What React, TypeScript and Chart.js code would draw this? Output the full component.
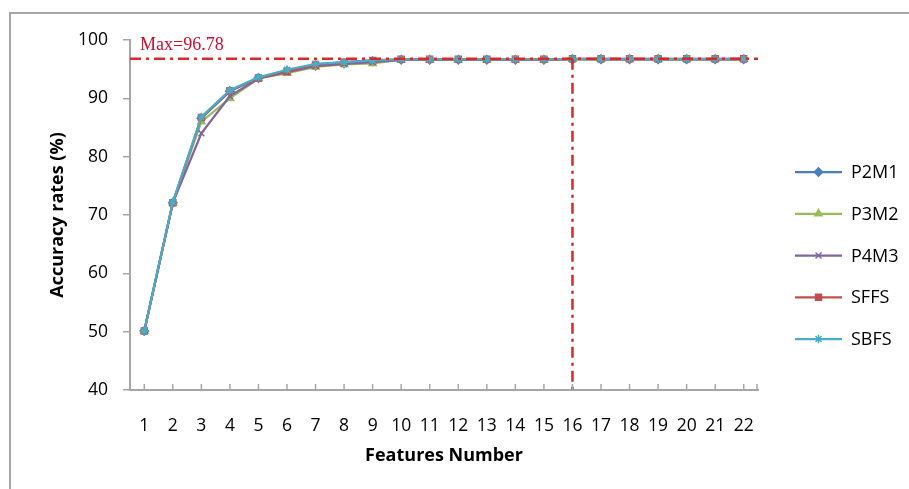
import React, { useEffect, useRef } from "react";
import { Chart, registerables } from "chart.js";
import { drawPoint } from "chart.js/helpers";

Chart.register(...registerables);

const categories = ["1","2","3","4","5","6","7","8","9","10","11","12","13","14","15","16","17","18","19","20","21","22"];
const p2m1 = [50.1, 72.1, 86.6, 91.2, 93.5, 94.7, 95.6, 96.0, 96.3, 96.6, 96.6, 96.6, 96.6, 96.6, 96.6, 96.7, 96.7, 96.7, 96.7, 96.7, 96.7, 96.7];
const p3m2 = [50.1, 72.1, 86.0, 90.0, 93.4, 94.3, 95.4, 95.8, 96.0, 96.6, 96.6, 96.6, 96.6, 96.6, 96.6, 96.7, 96.7, 96.7, 96.7, 96.7, 96.7, 96.7];
const p4m3 = [50.1, 72.1, 84.0, 90.4, 93.4, 94.5, 95.5, 95.9, 96.2, 96.6, 96.6, 96.6, 96.6, 96.6, 96.6, 96.7, 96.7, 96.7, 96.7, 96.7, 96.7, 96.7];
const sffs = [50.1, 72.1, 86.7, 91.3, 93.5, 94.6, 95.8, 96.2, 96.5, 96.7, 96.7, 96.7, 96.7, 96.7, 96.7, 96.78, 96.78, 96.78, 96.78, 96.78, 96.78, 96.78];
const sbfs = [50.1, 72.2, 86.8, 91.4, 93.6, 94.9, 95.9, 96.2, 96.5, 96.7, 96.7, 96.7, 96.7, 96.7, 96.7, 96.78, 96.78, 96.78, 96.78, 96.78, 96.78, 96.78];
const seriesNames = ["P2M1", "P3M2", "P4M3", "SFFS", "SBFS"];
const seriesColors = ["#4A7EBB", "#9BBB59", "#8064A2", "#C0504D", "#4BACC6"];
const seriesMarkers = ["rectRot", "triangle", "crossRot", "rect", "star"];
const maxValue = 96.78;
const maxFeature = "16";
const yTicks = [40, 50, 60, 70, 80, 90, 100];

const FONT = "'Open Sans', 'Liberation Sans', sans-serif";

const refLinesPlugin = {
  id: "refLines",
  afterDatasetsDraw(chart: any) {
    const { ctx, chartArea, scales } = chart;
    const x = scales.x;
    const y = scales.y;
    const yMax = y.getPixelForValue(maxValue);
    const xMax = x.getPixelForValue(categories.indexOf(maxFeature));
    ctx.save();
    ctx.strokeStyle = "#D42A2A";
    ctx.lineWidth = 2.5;
    ctx.setLineDash([11, 5, 3, 5]);
    ctx.beginPath();
    ctx.moveTo(chartArea.left, yMax);
    ctx.lineTo(chartArea.right, yMax);
    ctx.stroke();
    ctx.beginPath();
    ctx.moveTo(xMax, yMax);
    ctx.lineTo(xMax, chartArea.bottom);
    ctx.stroke();
    ctx.setLineDash([]);
    ctx.fillStyle = "#C8102E";
    ctx.font = "18px 'Liberation Serif', 'DejaVu Serif', serif";
    ctx.textBaseline = "alphabetic";
    ctx.textAlign = "left";
    ctx.fillText(`Max=${maxValue}`, chartArea.left + 10, chartArea.top + 10);
    ctx.restore();
  },
  afterDraw(chart: any) {
    const { ctx, chartArea, scales } = chart;
    const x = scales.x;
    ctx.save();
    // inward tick marks on category axis
    ctx.strokeStyle = "#A6A6A6";
    ctx.lineWidth = 1.5;
    ctx.beginPath();
    for (let i = 0; i < categories.length; i++) {
      const px = x.getPixelForTick(i);
      ctx.moveTo(px, chartArea.bottom);
      ctx.lineTo(px, chartArea.bottom - 6);
    }
    ctx.moveTo(chartArea.right - 1, chartArea.bottom);
    ctx.lineTo(chartArea.right - 1, chartArea.bottom - 6);
    ctx.stroke();
    // legend
    const lx = chartArea.right + 37;
    const ly0 = chartArea.top + 132;
    const step = 41.75;
    chart.data.datasets.forEach((ds: any, i: number) => {
      const yy = ly0 + i * step;
      ctx.strokeStyle = ds.borderColor;
      ctx.lineWidth = 2.25;
      ctx.beginPath();
      ctx.moveTo(lx, yy);
      ctx.lineTo(lx + 47, yy);
      ctx.stroke();
      ctx.fillStyle = ds.borderColor;
      ctx.strokeStyle = ds.borderColor;
      ctx.lineWidth = 1.5;
      drawPoint(ctx, {
        pointStyle: ds.pointStyle,
        radius: ds.pointRadius,
        borderWidth: 1.5,
        rotation: 0,
      } as any, lx + 23.5, yy);
      ctx.fillStyle = "#000";
      ctx.font = `18px ${FONT}`;
      ctx.textBaseline = "middle";
      ctx.textAlign = "left";
      ctx.fillText(ds.label, lx + 56, yy + 1);
    });
    ctx.restore();
  },
};

export default function App() {
  const canvasRef = useRef<HTMLCanvasElement | null>(null);

  useEffect(() => {
    const canvas = canvasRef.current;
    if (!canvas) return;
    const dataArrays = [p2m1, p3m2, p4m3, sffs, sbfs];
    const chart = new Chart(canvas, {
      type: "line",
      data: {
        labels: categories,
        datasets: dataArrays.map((d, i) => ({
          label: seriesNames[i],
          data: d,
          borderColor: seriesColors[i],
          backgroundColor: seriesColors[i],
          pointBackgroundColor: seriesColors[i],
          pointBorderColor: seriesColors[i],
          pointStyle: seriesMarkers[i] as any,
          pointRadius: 4.2,
          pointBorderWidth: 1.5,
          borderWidth: 2.25,
          tension: 0,
          order: dataArrays.length - i,
        })),
      },
      options: {
        responsive: false,
        animation: false,
        devicePixelRatio: 1,
        layout: { padding: { top: 40, right: 151, bottom: 0, left: 0 } },
        plugins: { legend: { display: false }, tooltip: { enabled: false }, title: { display: false } },
        scales: {
          x: {
            type: "category",
            offset: true,
            grid: { display: false },
            border: { display: true, color: "#A6A6A6", width: 2 },
            ticks: { color: "#000", font: { family: FONT, size: 17.5 }, padding: 18, maxRotation: 0, autoSkip: false },
            title: { display: true, text: "Features Number", color: "#000", font: { family: FONT, size: 18, weight: "bold" }, padding: { top: 0, bottom: 22 } },
            afterFit(scale: any) { scale.height = 99; },
          },
          y: {
            min: yTicks[0],
            max: yTicks[yTicks.length - 1],
            afterBuildTicks(scale: any) { scale.ticks = yTicks.map((v) => ({ value: v })); },
            grid: { drawOnChartArea: false, drawTicks: true, tickLength: 7, color: "#A6A6A6", lineWidth: 1.5 },
            border: { display: true, color: "#A6A6A6", width: 2 },
            ticks: { color: "#000", font: { family: FONT, size: 17.5 }, padding: 15 },
            title: { display: true, text: "Accuracy rates (%)", color: "#000", font: { family: FONT, size: 18, weight: "bold" }, padding: { top: 47, bottom: 0 } },
            afterFit(scale: any) { scale.width = 130; },
          },
        },
      },
      plugins: [refLinesPlugin],
    });
    return () => chart.destroy();
  }, []);

  return (
    <div style={{ position: "fixed", left: 0, top: 0, width: 909, height: 489, background: "#fff", overflow: "hidden" }}>
      <div style={{ position: "absolute", left: 9, top: 12, width: 1200, height: 1200, borderTop: "2px solid #A6A6A6", borderLeft: "2px solid #A6A6A6" }} />
      <canvas ref={canvasRef} width={909} height={489} style={{ position: "absolute", left: 0, top: 0, width: 909, height: 489 }} />
    </div>
  );
}
